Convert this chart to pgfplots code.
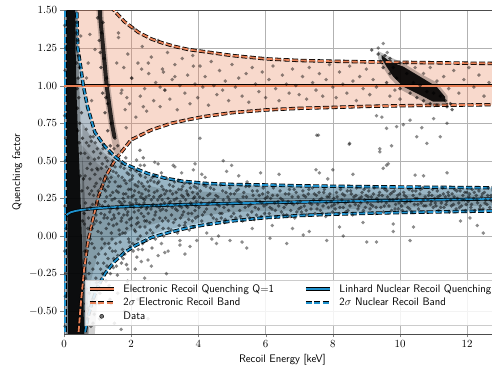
\documentclass[border=0pt]{standalone}
\usepackage{pgfplots}
\pgfplotsset{compat=1.18}
\definecolor{erc}{RGB}{232,128,86}
\definecolor{nrc}{RGB}{30,145,205}
\definecolor{gridc}{RGB}{178,178,178}
\begin{document}
\begin{tikzpicture}
\begin{axis}[
  name=ax,
  scale only axis,
  width=436.8bp, height=323.4bp,
  xmin=0, xmax=13, ymin=-0.65, ymax=1.5,
  xtick={0,2,4,6,8,10,12},
  ytick={-0.5,-0.25,0,0.25,0.5,0.75,1,1.25,1.5},
  yticklabel style={/pgf/number format/.cd,fixed,fixed zerofill,precision=2},
  tick label style={font=\fontsize{10.5}{12}\selectfont},
  tick align=outside, tick pos=left,
  major tick length=3.5bp,
  grid=major,
  grid style={gridc, line width=0.5pt},
  axis line style={black!70, line width=0.6pt},
  xlabel={Recoil Energy [keV]},
  ylabel={Quenching factor},
  label style={font=\fontsize{11}{13}\selectfont\sffamily},
  legend columns=2,
  legend cell align=left,
  legend style={at={(0.99,0.027)}, anchor=south east, font=\fontsize{11}{13}\selectfont\sffamily, draw=black!20, fill=white, fill opacity=0.85, text opacity=1, draw opacity=1, row sep=0.5pt, /tikz/every even column/.append style={column sep=28bp}, /tikz/every odd column/.append style={column sep=6bp}},
  dots/.style={only marks, mark=*, mark size=1.9bp, mark options={fill=black, draw opacity=0, fill opacity=#1}, forget plot},
]
% ---- ER band fill
\addplot[fill=erc, fill opacity=0.3, draw=none, forget plot] coordinates {
(0,1.6)(1.42,1.6)(1.45,1.51)(1.57,1.48)(1.8,1.425)(2.21,1.355)(2.6,1.31)(2.91,1.285)(3.3,1.26)(3.7,1.24)(4.2,1.225)(5,1.20)(6,1.178)(7,1.167)(8,1.162)(9,1.158)(10,1.155)(11,1.152)(12,1.149)(13,1.147)
(13,0.874)(12,0.871)(11,0.869)(10,0.866)(9,0.862)(8,0.855)(7,0.849)(6,0.838)(5,0.82)(4.2,0.795)(3.75,0.776)(3.2,0.75)(2.6,0.705)(2.0,0.64)(1.52,0.505)(1.25,0.40)(1.02,0.26)(0.85,0.1)(0.72,-0.03)(0.6,-0.22)(0.5,-0.45)(0.43,-0.65)(0.4,-0.75)(0,-0.75)} -- cycle;
% ---- NR band fill
\addplot[fill=nrc, fill opacity=0.3, draw=none, forget plot] coordinates {
(0,-0.75)(0,1.6)(0.36,1.6)(0.38,1.5)(0.41,1.25)(0.5,1.12)(0.575,1.0)(0.7,0.86)(0.84,0.75)(0.92,0.69)(1.2,0.6)(1.52,0.527)(1.8,0.48)(2.11,0.45)(2.5,0.415)(3.0,0.385)(3.5,0.365)(4.2,0.35)(5,0.343)(6.13,0.339)(7,0.334)(8,0.331)(9.1,0.328)(10,0.326)(11,0.324)(12,0.322)(13,0.32)
(13,0.167)(12,0.164)(11,0.16)(10,0.156)(9,0.151)(8,0.145)(7,0.136)(6,0.122)(5,0.1)(4.2,0.075)(3.7,0.055)(3.15,0.025)(2.6,-0.01)(2.11,-0.065)(1.8,-0.11)(1.5,-0.17)(1.22,-0.25)(1.0,-0.34)(0.85,-0.43)(0.7,-0.55)(0.62,-0.65)(0.56,-0.75)} -- cycle;
% ---- dense data regions
\addplot[fill=black, fill opacity=0.18, draw=none, forget plot] coordinates {(0.55,0.75)(0.9,0.62)(1.2,0.55)(1.5,0.5)(2.0,0.44)(2.5,0.4)(3,0.37)(4,0.345)(6,0.33)(9,0.32)(13,0.315)(13,0.175)(9,0.16)(6,0.13)(4,0.085)(3,0.04)(2.5,0.0)(2.0,-0.06)(1.5,-0.15)(1.2,-0.25)(1.0,-0.4)(0.9,-0.7)(0.55,-0.7)} -- cycle;
\addplot[fill=black, fill opacity=0.14, draw=none, forget plot] coordinates {(0.55,0.6)(1.0,0.48)(1.5,0.4)(2,0.36)(3,0.31)(5,0.285)(13,0.275)(13,0.205)(5,0.16)(3,0.1)(2,0.04)(1.5,-0.02)(1.0,-0.12)(0.8,-0.3)(0.7,-0.7)(0.55,-0.7)} -- cycle;
\addplot[fill=black, fill opacity=0.3, draw=none, forget plot] coordinates {(0.05,1.55)(0.4,1.55)(0.44,1.1)(0.5,0.7)(0.6,0.35)(0.66,0.0)(0.7,-0.35)(0.74,-0.7)(0.06,-0.7)} -- cycle;
\addplot[fill=black, fill opacity=0.9, draw=none, forget plot] coordinates {(0.08,1.55)(0.33,1.55)(0.35,1.2)(0.38,0.9)(0.42,0.65)(0.46,0.45)(0.5,0.2)(0.53,0.0)(0.57,-0.3)(0.6,-0.7)(0.12,-0.7)(0.1,0.0)(0.08,0.8)} -- cycle;
\addplot[black, line width=7bp, opacity=0.2, line cap=round, forget plot] coordinates {(1.06,1.55)(1.08,1.45)(1.17,1.24)(1.27,1.0)(1.36,0.85)(1.44,0.73)(1.52,0.64)(1.6,0.56)};
\addplot[black, line width=4bp, opacity=0.8, line cap=round, forget plot] coordinates {(1.06,1.55)(1.08,1.45)(1.17,1.24)(1.27,1.0)(1.36,0.85)(1.44,0.73)(1.5,0.66)};
\addplot[fill=black, fill opacity=0.25, draw=none, forget plot] coordinates {(9.35,1.23)(9.7,1.19)(10.1,1.15)(10.6,1.08)(11.1,1.02)(11.42,0.93)(11.42,0.87)(10.95,0.86)(10.55,0.91)(10.05,0.97)(9.7,1.05)(9.5,1.12)(9.35,1.18)} -- cycle;
\addplot[fill=black, fill opacity=0.9, draw=none, forget plot] coordinates {(9.455,1.203)(9.70,1.159)(10.10,1.126)(10.60,1.059)(11.09,0.993)(11.34,0.926)(11.34,0.893)(10.99,0.893)(10.60,0.9375)(10.10,0.993)(9.80,1.059)(9.60,1.126)(9.455,1.181)} -- cycle;
% ---- scattered data
\addplot[dots=0.5] coordinates {
(0.62,0.55)(0.66,0.71)(0.7,0.32)(0.73,0.12)(0.68,-0.1)(0.75,-0.38)(0.78,0.48)(0.81,0.63)(0.84,0.05)(0.86,-0.22)(0.88,0.27)(0.9,-0.52)(0.92,0.41)(0.95,0.14)(0.97,-0.31)(0.99,0.58)(0.64,0.22)(0.71,-0.48)(0.77,0.38)(0.83,-0.05)(0.87,0.66)(0.93,-0.14)(0.96,0.35)(0.74,0.6)(0.8,-0.6)(0.89,0.08)(0.69,0.45)(0.79,0.19)(0.85,-0.42)(0.98,0.22)(0.63,-0.28)(0.76,-0.18)(0.91,0.51)(0.94,-0.45)(0.82,0.3)
(1.01,0.44)(1.03,-0.12)(1.05,0.21)(1.07,-0.38)(1.09,0.55)(1.11,0.02)(1.13,0.33)(1.15,-0.25)(1.17,0.61)(1.19,0.12)(1.21,-0.05)(1.23,0.4)(1.25,-0.3)(1.27,0.26)(1.29,0.5)(1.31,-0.15)(1.33,0.08)(1.35,0.36)(1.37,-0.42)(1.39,0.18)(1.41,0.47)(1.43,-0.02)(1.45,0.29)(1.47,-0.21)(1.49,0.58)(1.02,0.3)(1.06,-0.55)(1.1,0.15)(1.14,0.48)(1.18,-0.18)(1.22,0.23)(1.26,0.05)(1.3,0.38)(1.34,-0.33)(1.38,0.27)(1.42,0.11)(1.46,0.43)(1.12,-0.08)(1.24,0.52)(1.36,-0.08)(1.48,0.14)(1.08,0.38)(1.2,0.31)(1.32,0.2)(1.44,-0.1)
(1.51,0.25)(1.53,-0.1)(1.55,0.42)(1.57,0.08)(1.59,-0.26)(1.61,0.33)(1.63,0.15)(1.65,0.5)(1.67,-0.04)(1.69,0.22)(1.71,-0.18)(1.73,0.39)(1.75,0.02)(1.77,0.28)(1.79,0.45)(1.81,-0.12)(1.83,0.18)(1.85,0.35)(1.87,0.05)(1.89,-0.3)(1.91,0.26)(1.93,0.41)(1.95,0.11)(1.97,-0.07)(1.99,0.31)(1.52,0.36)(1.56,-0.2)(1.6,0.19)(1.64,0.04)(1.68,0.46)(1.72,0.12)(1.76,-0.15)(1.8,0.23)(1.84,0.52)(1.88,0.14)(1.92,-0.02)(1.96,0.37)(1.62,0.29)(1.74,0.21)(1.86,0.09)(1.98,0.2)
(2.01,0.12)(2.03,0.38)(2.05,-0.05)(2.07,0.27)(2.09,0.16)(2.11,0.44)(2.13,0.03)(2.15,0.22)(2.17,-0.14)(2.19,0.33)(2.21,0.09)(2.23,0.29)(2.25,0.41)(2.27,0.0)(2.29,0.19)(2.31,0.35)(2.33,-0.09)(2.35,0.25)(2.37,0.13)(2.39,0.47)(2.41,0.06)(2.43,0.31)(2.45,0.18)(2.47,-0.03)(2.49,0.36)(2.04,0.21)(2.1,0.3)(2.16,0.08)(2.22,0.17)(2.28,0.26)(2.34,0.2)(2.4,0.24)(2.46,0.1)(2.12,-0.22)(2.36,0.52)(2.26,0.57)
(2.51,0.15)(2.54,0.33)(2.57,0.04)(2.6,0.24)(2.63,0.39)(2.66,0.11)(2.69,0.29)(2.72,-0.02)(2.75,0.2)(2.78,0.35)(2.81,0.07)(2.84,0.26)(2.87,0.17)(2.9,0.42)(2.93,0.1)(2.96,0.31)(2.99,0.22)(2.53,0.27)(2.59,0.18)(2.65,0.21)(2.71,0.14)(2.77,0.3)(2.83,0.19)(2.89,0.27)(2.95,0.05)(2.62,-0.08)(2.8,0.48)(2.68,0.36)(2.92,0.24)
(3.02,0.12)(3.05,0.3)(3.08,0.2)(3.11,0.05)(3.14,0.34)(3.17,0.23)(3.2,0.14)(3.23,0.28)(3.26,0.09)(3.29,0.36)(3.32,0.18)(3.35,0.25)(3.38,0.02)(3.41,0.31)(3.44,0.2)(3.47,0.12)(3.5,0.27)(3.53,0.33)(3.56,0.16)(3.59,0.07)(3.62,0.24)(3.65,0.3)(3.68,0.19)(3.71,0.11)(3.74,0.35)(3.77,0.22)(3.8,0.15)(3.83,0.29)(3.86,0.06)(3.89,0.26)(3.92,0.2)(3.95,0.32)(3.98,0.13)(3.1,0.25)(3.3,0.21)(3.5,0.19)(3.7,0.27)(3.9,0.17)
(4.02,0.19)(4.06,0.3)(4.1,0.1)(4.14,0.25)(4.18,0.16)(4.22,0.33)(4.26,0.21)(4.3,0.08)(4.34,0.28)(4.38,0.14)(4.42,0.23)(4.46,0.31)(4.5,0.18)(4.54,0.11)(4.58,0.26)(4.62,0.2)(4.66,0.34)(4.7,0.15)(4.74,0.24)(4.78,0.09)(4.82,0.29)(4.86,0.21)(4.9,0.17)(4.94,0.32)(4.98,0.13)(4.08,0.22)(4.28,0.27)(4.48,0.24)(4.68,0.12)(4.88,0.26)
(5.03,0.2)(5.07,0.28)(5.11,0.12)(5.15,0.24)(5.19,0.31)(5.23,0.17)(5.27,0.22)(5.31,0.1)(5.35,0.29)(5.39,0.19)(5.43,0.26)(5.47,0.14)(5.51,0.33)(5.55,0.21)(5.59,0.16)(5.63,0.27)(5.67,0.11)(5.71,0.24)(5.75,0.3)(5.79,0.18)(5.83,0.23)(5.87,0.13)(5.91,0.28)(5.95,0.2)(5.99,0.25)
(6.03,0.21)(6.07,0.29)(6.11,0.15)(6.15,0.25)(6.19,0.18)(6.23,0.32)(6.27,0.22)(6.31,0.13)(6.35,0.27)(6.39,0.2)(6.43,0.3)(6.47,0.16)(6.51,0.24)(6.55,0.19)(6.59,0.28)(6.63,0.14)(6.67,0.23)(6.71,0.31)(6.75,0.17)(6.79,0.26)(6.83,0.21)(6.87,0.12)(6.91,0.29)(6.95,0.22)(6.99,0.18)
(7.03,0.23)(7.07,0.16)(7.11,0.3)(7.15,0.2)(7.19,0.26)(7.23,0.14)(7.27,0.28)(7.31,0.22)(7.35,0.18)(7.39,0.32)(7.43,0.24)(7.47,0.15)(7.51,0.27)(7.55,0.21)(7.59,0.29)(7.63,0.17)(7.67,0.25)(7.71,0.2)(7.75,0.31)(7.79,0.13)(7.83,0.26)(7.87,0.19)(7.91,0.28)(7.95,0.23)(7.99,0.16)
(8.03,0.25)(8.07,0.18)(8.11,0.29)(8.15,0.22)(8.19,0.15)(8.23,0.31)(8.27,0.24)(8.31,0.19)(8.35,0.27)(8.39,0.16)(8.43,0.3)(8.47,0.23)(8.51,0.2)(8.55,0.28)(8.59,0.14)(8.63,0.26)(8.67,0.21)(8.71,0.32)(8.75,0.18)(8.79,0.25)(8.83,0.22)(8.87,0.29)(8.91,0.17)(8.95,0.24)(8.99,0.27)
(9.03,0.22)(9.07,0.3)(9.11,0.18)(9.15,0.26)(9.19,0.2)(9.23,0.32)(9.27,0.15)(9.31,0.25)(9.35,0.23)(9.39,0.29)(9.43,0.19)(9.47,0.27)(9.51,0.16)(9.55,0.31)(9.59,0.22)(9.63,0.26)(9.67,0.2)(9.71,0.28)(9.75,0.17)(9.79,0.24)(9.83,0.3)(9.87,0.21)(9.91,0.25)(9.95,0.18)(9.99,0.28)
(10.03,0.24)(10.07,0.17)(10.11,0.29)(10.15,0.22)(10.19,0.26)(10.23,0.19)(10.27,0.31)(10.31,0.23)(10.35,0.16)(10.39,0.27)(10.43,0.21)(10.47,0.3)(10.51,0.25)(10.55,0.18)(10.59,0.28)(10.63,0.22)(10.67,0.32)(10.71,0.2)(10.75,0.26)(10.79,0.16)(10.83,0.24)(10.87,0.29)(10.91,0.21)(10.95,0.27)(10.99,0.19)
(11.03,0.25)(11.07,0.2)(11.11,0.3)(11.15,0.17)(11.19,0.27)(11.23,0.22)(11.27,0.32)(11.31,0.19)(11.35,0.26)(11.39,0.23)(11.43,0.29)(11.47,0.16)(11.51,0.24)(11.55,0.28)(11.59,0.21)(11.63,0.31)(11.67,0.18)(11.71,0.25)(11.75,0.22)(11.79,0.3)(11.83,0.2)(11.87,0.27)(11.91,0.24)(11.95,0.17)(11.99,0.29)
(12.03,0.23)(12.07,0.28)(12.11,0.19)(12.15,0.31)(12.19,0.25)(12.23,0.17)(12.27,0.27)(12.31,0.22)(12.35,0.3)(12.39,0.2)(12.43,0.26)(12.47,0.18)(12.51,0.29)(12.55,0.24)(12.59,0.21)(12.63,0.32)(12.67,0.19)(12.71,0.27)(12.75,0.23)(12.79,0.16)(12.83,0.28)(12.87,0.22)(12.91,0.3)(12.95,0.25)(12.99,0.2)
(0.61,0.08)(0.63,0.4)(0.65,-0.45)(0.67,0.62)(0.69,0.18)(0.71,0.05)(0.72,0.52)(0.74,-0.25)(0.76,0.28)(0.78,-0.02)(0.79,0.66)(0.81,-0.35)(0.83,0.44)(0.85,0.21)(0.86,-0.58)(0.88,0.56)(0.9,-0.08)(0.91,0.33)(0.93,0.62)(0.95,-0.28)(0.96,0.1)(0.98,0.45)(1.0,-0.18)(1.01,0.03)(1.03,0.52)(1.04,-0.45)(1.06,0.27)(1.08,0.09)(1.09,-0.22)(1.11,0.45)(1.13,-0.02)(1.14,0.2)(1.16,0.58)(1.17,-0.35)(1.19,0.36)(1.21,0.14)(1.23,-0.12)(1.24,0.3)(1.26,0.46)(1.28,-0.2)(1.29,0.12)(1.31,0.33)(1.33,-0.05)(1.35,0.55)(1.36,0.16)(1.38,-0.25)(1.4,0.39)(1.41,0.02)(1.43,0.24)(1.45,0.5)(1.47,0.07)(1.48,-0.15)
(1.5,0.12)(1.52,0.46)(1.54,-0.05)(1.56,0.3)(1.58,0.18)(1.6,-0.13)(1.62,0.4)(1.64,0.23)(1.66,0.01)(1.68,0.33)(1.7,0.1)(1.72,0.48)(1.74,-0.09)(1.76,0.25)(1.78,0.14)(1.8,0.37)(1.82,0.02)(1.84,0.28)(1.86,-0.19)(1.88,0.42)(1.9,0.16)(1.92,0.31)(1.94,-0.04)(1.96,0.22)(1.98,0.44)(2.0,0.07)(2.02,0.26)(2.04,0.4)(2.06,-0.1)(2.08,0.19)(2.1,0.04)(2.12,0.34)(2.14,0.24)(2.16,0.43)(2.18,0.12)(2.2,-0.02)(2.22,0.36)(2.24,0.21)(2.26,0.06)(2.28,0.4)(2.3,0.15)(2.32,0.28)(2.34,-0.05)(2.36,0.33)(2.38,0.22)(2.4,0.1)(2.42,0.39)(2.44,0.26)(2.46,0.02)(2.48,0.19)
(2.52,0.3)(2.55,0.09)(2.58,0.37)(2.61,0.2)(2.64,0.02)(2.67,0.26)(2.7,0.4)(2.73,0.16)(2.76,0.06)(2.79,0.24)(2.82,0.36)(2.85,0.12)(2.88,0.21)(2.91,0.33)(2.94,0.18)(2.97,0.0)(3.0,0.28)(3.04,0.17)(3.07,0.38)(3.1,0.1)(3.13,0.22)(3.16,0.3)(3.19,0.04)(3.22,0.19)(3.25,0.33)(3.28,0.24)(3.31,0.11)(3.34,0.29)(3.37,0.17)(3.4,0.37)(3.43,0.07)(3.46,0.23)(3.49,0.31)(3.52,0.14)(3.55,0.26)(3.58,0.35)(3.61,0.09)(3.64,0.2)(3.67,0.28)(3.7,0.15)(3.73,0.04)(3.76,0.32)(3.79,0.21)(3.82,0.1)(3.85,0.25)(3.88,0.33)(3.91,0.12)(3.94,0.23)(3.97,0.28)
(4.04,0.26)(4.12,0.14)(4.16,0.34)(4.24,0.18)(4.32,0.22)(4.36,0.32)(4.44,0.12)(4.52,0.27)(4.56,0.21)(4.64,0.15)(4.72,0.3)(4.76,0.19)(4.8,0.11)(4.92,0.24)(4.96,0.28)
(5.05,0.15)(5.13,0.3)(5.21,0.23)(5.25,0.13)(5.33,0.26)(5.41,0.33)(5.49,0.2)(5.53,0.12)(5.61,0.3)(5.69,0.19)(5.73,0.14)(5.81,0.27)(5.89,0.22)(5.93,0.32)(5.97,0.15)
(6.05,0.26)(6.13,0.19)(6.21,0.27)(6.29,0.17)(6.37,0.23)(6.45,0.25)(6.53,0.14)(6.61,0.21)(6.69,0.28)(6.73,0.13)(6.77,0.22)(6.85,0.31)(6.93,0.16)(6.97,0.26)
(7.05,0.19)(7.13,0.27)(7.21,0.17)(7.29,0.31)(7.37,0.21)(7.45,0.28)(7.53,0.18)(7.61,0.24)(7.69,0.15)(7.73,0.29)(7.81,0.22)(7.89,0.26)(7.97,0.2)
(8.05,0.21)(8.13,0.26)(8.21,0.19)(8.29,0.28)(8.37,0.22)(8.45,0.17)(8.53,0.3)(8.61,0.23)(8.69,0.27)(8.77,0.2)(8.85,0.26)(8.93,0.31)(8.97,0.19)
(9.05,0.26)(9.13,0.21)(9.21,0.28)(9.29,0.19)(9.37,0.27)(9.45,0.23)(9.53,0.2)(9.61,0.3)(9.69,0.24)(9.77,0.29)(9.85,0.18)(9.93,0.27)(9.97,0.22)
(10.05,0.2)(10.13,0.27)(10.21,0.23)(10.29,0.18)(10.37,0.3)(10.45,0.25)(10.53,0.21)(10.61,0.31)(10.69,0.24)(10.77,0.2)(10.85,0.27)(10.93,0.23)(10.97,0.31)
(11.05,0.22)(11.13,0.26)(11.21,0.19)(11.29,0.28)(11.37,0.21)(11.45,0.27)(11.53,0.2)(11.61,0.26)(11.69,0.3)(11.77,0.19)(11.85,0.24)(11.93,0.29)(11.97,0.21)
(12.05,0.26)(12.13,0.21)(12.21,0.29)(12.29,0.24)(12.37,0.18)(12.45,0.28)(12.53,0.22)(12.61,0.27)(12.69,0.24)(12.77,0.3)(12.85,0.2)(12.93,0.26)
};
\addplot[dots=0.45] coordinates {
(3.45,-0.06)(3.85,0.44)(3.25,0.47)(3.6,-0.12)(4.2,0.39)(4.6,0.0)(4.84,0.43)(4.4,-0.02)(5.2,0.4)(5.6,0.05)(5.45,0.36)(5.85,0.42)(5.3,-0.04)(6.4,0.41)(6.8,0.05)(6.2,0.07)(7.5,0.44)(7.3,0.03)(7.85,0.38)(8.2,0.06)(8.6,0.41)(8.9,0.09)(9.5,0.45)(9.8,0.08)(10.4,0.06)(10.7,0.4)(11.4,0.42)(11.8,0.1)(12.3,0.07)
(1.62,1.32)(1.7,0.95)(1.78,1.12)(1.85,0.72)(1.9,1.21)(1.95,0.88)(2.02,1.05)(2.08,1.38)(2.14,0.79)(2.2,1.15)(2.27,0.93)(2.33,1.26)(2.4,0.98)(2.46,0.83)(2.52,1.08)(2.6,1.19)(2.67,0.9)(2.73,1.02)(2.8,1.3)(2.86,0.86)(2.93,1.11)(3.0,0.97)(3.08,1.22)(3.15,0.91)(3.22,1.04)(3.3,1.14)(3.37,0.84)(3.45,1.0)(3.52,1.18)(3.6,0.95)(3.68,1.07)(3.75,0.88)(3.83,1.2)(3.9,1.01)(3.98,0.92)(4.05,1.13)(4.13,0.99)(4.2,1.06)(4.3,0.87)(4.38,1.16)(4.46,1.0)(4.55,0.94)(4.63,1.1)(4.72,0.97)(4.8,1.03)(4.9,0.9)(5.0,1.14)(5.1,0.99)(5.2,1.05)(5.3,0.93)(5.42,1.08)(5.5,0.89)(5.6,1.12)(5.7,1.01)(5.8,0.96)(5.9,1.09)(6.0,0.92)(6.1,1.04)(6.22,1.13)(6.3,0.98)(6.4,0.9)(6.5,1.07)(6.62,1.01)(6.7,0.95)(6.8,1.11)(6.9,1.0)(7.0,0.94)(7.1,1.06)(7.22,0.91)(7.3,1.12)(7.4,1.02)(7.5,0.97)(7.6,1.08)(7.7,0.93)(7.8,1.04)(7.9,1.14)(8.0,0.99)(8.1,0.92)(8.2,1.09)(8.3,1.01)(8.42,0.95)(8.5,1.13)(8.6,1.03)(8.7,0.9)(8.8,1.06)(8.9,0.98)(9.0,1.11)(9.1,0.94)(9.2,1.04)(9.3,0.99)(9.35,1.25)(9.5,1.28)(9.62,1.22)(9.7,0.93)(9.85,0.97)(10.0,0.91)(10.2,1.15)(10.45,1.12)(10.7,1.08)(10.9,1.12)(11.1,1.03)(11.3,1.06)(11.45,0.98)(11.6,1.1)(11.75,0.95)(11.9,1.04)(12.05,1.12)(12.2,0.99)(12.35,1.07)(12.5,0.93)(12.65,1.02)(12.8,1.1)(12.95,0.97)
(9.3,0.80)(9.46,0.79)(9.6,0.716)(9.9,0.727)(10.1,0.74)(10.5,0.66)(10.3,0.77)(10.8,0.616)(11.2,0.66)(11.4,0.75)(9.4,0.56)(9.65,0.48)(10.45,0.405)(8.5,0.616)(7.52,0.67)(8.0,0.44)(7.6,0.42)(11.0,0.78)(9.75,0.6)(10.65,0.72)
(4.05,0.65)(7.57,0.67)(8.49,0.61)(9.4,0.58)(9.6,0.47)(4.74,0.5)(4.99,0.47)(2.16,0.505)(2.27,0.47)(2.7,0.49)(3.3,0.46)(3.9,0.48)(3.5,0.42)(4.1,0.41)
(0.5,1.33)(0.77,1.34)(0.72,1.15)(0.92,1.24)(0.67,1.05)(0.82,0.9)(1.57,1.15)(1.87,0.92)(2.01,1.05)(2.31,1.11)(2.51,1.15)(2.36,0.86)(2.96,1.09)(3.3,1.06)(3.85,1.13)(3.0,0.97)(2.86,0.99)(1.72,0.97)(1.82,0.84)(1.62,1.35)
(0.02,1.4)(0.03,1.1)(0.02,0.8)(0.04,0.5)(0.03,0.2)(0.02,-0.1)(0.04,-0.4)(0.03,-0.6)(0.05,1.25)(0.05,0.65)(0.06,0.05)(0.05,-0.25)
(3.45,-0.03)(3.75,-0.07)(3.95,-0.03)(4.25,0.02)(4.54,-0.05)(4.94,-0.03)(5.44,-0.08)(6.13,-0.015)(6.63,-0.05)(7.12,0.007)(7.82,-0.03)(8.31,0.0)(9.01,-0.04)(9.3,-0.04)(9.8,0.03)(10.3,-0.03)(12.48,0.02)(12.08,0.12)
(1.4,-0.45)(1.6,-0.38)(1.8,-0.5)(2.0,-0.35)(2.2,-0.42)(2.4,-0.28)(2.6,-0.2)(1.9,-0.22)(2.3,-0.17)(2.8,-0.13)(3.05,-0.25)(1.5,-0.58)(2.5,-0.55)(3.1,-0.1)(1.7,-0.62)(2.21,-0.09)(3.0,-0.11)(2.5,-0.16)(2.9,-0.05)
};
\addplot[dots=0.6] coordinates {
(0.38,1.42)(0.4,1.3)(0.37,1.15)(0.42,1.05)(0.44,0.92)(0.4,0.85)(0.47,0.75)(0.45,0.62)(0.5,0.55)(0.48,0.4)(0.53,0.3)(0.56,0.1)(0.6,0.15)(0.58,0.38)(0.52,0.82)(0.39,0.98)(0.43,1.2)(0.36,1.35)(0.46,1.12)(0.41,0.7)(0.55,0.65)(0.62,-0.1)(0.66,-0.35)(0.7,-0.55)(0.64,-0.5)
(1.0,1.45)(1.16,1.42)(1.05,1.3)(1.2,1.18)(1.1,1.12)(1.27,1.05)(1.15,0.95)(1.3,0.88)(1.22,0.82)(1.4,0.75)(1.3,0.7)(1.52,0.65)(1.38,0.6)(1.6,0.6)(1.08,1.22)(1.25,0.92)(1.33,1.0)(1.12,1.35)
(9.35,1.21)(9.42,1.16)(9.55,1.2)(9.7,1.18)(9.8,1.12)(10.0,1.15)(9.9,1.05)(10.2,1.08)(10.4,1.02)(10.6,1.0)(10.8,0.96)(11.0,0.95)(11.2,0.93)(11.35,0.9)(11.4,0.86)(11.1,0.87)(10.9,0.88)(10.7,0.9)(10.5,0.92)(10.3,0.95)(10.0,0.98)(9.7,1.08)(9.5,1.12)(9.6,1.02)(11.5,0.88)(11.55,0.84)(9.16,1.237)
};
% ---- ER lines
\addplot[black, line width=3.6bp, forget plot] coordinates {(0,1)(13,1)};
\addplot[erc, line width=1.8bp, forget plot] coordinates {(0,1)(13,1)};
\addplot[black, line width=3.4bp, dash pattern=on 6bp off 2.5bp, forget plot] coordinates {(1.42,1.53)(1.45,1.51)(1.57,1.48)(1.8,1.425)(2.21,1.355)(2.6,1.31)(2.91,1.285)(3.3,1.26)(3.7,1.24)(4.2,1.225)(5,1.20)(6,1.178)(7,1.167)(8,1.162)(9,1.158)(10,1.155)(11,1.152)(12,1.149)(13,1.147)};
\addplot[erc, line width=1.8bp, dash pattern=on 6bp off 2.5bp, forget plot] coordinates {(1.42,1.53)(1.45,1.51)(1.57,1.48)(1.8,1.425)(2.21,1.355)(2.6,1.31)(2.91,1.285)(3.3,1.26)(3.7,1.24)(4.2,1.225)(5,1.20)(6,1.178)(7,1.167)(8,1.162)(9,1.158)(10,1.155)(11,1.152)(12,1.149)(13,1.147)};
\addplot[black, line width=3.4bp, dash pattern=on 6bp off 2.5bp, forget plot] coordinates {(0.4,-0.75)(0.43,-0.65)(0.5,-0.45)(0.6,-0.22)(0.72,-0.03)(0.85,0.1)(1.02,0.26)(1.25,0.40)(1.52,0.505)(2.0,0.64)(2.6,0.705)(3.2,0.75)(3.75,0.776)(4.2,0.795)(5,0.82)(6,0.838)(7,0.849)(8,0.855)(9,0.862)(10,0.866)(11,0.869)(12,0.871)(13,0.874)};
\addplot[erc, line width=1.8bp, dash pattern=on 6bp off 2.5bp, forget plot] coordinates {(0.4,-0.75)(0.43,-0.65)(0.5,-0.45)(0.6,-0.22)(0.72,-0.03)(0.85,0.1)(1.02,0.26)(1.25,0.40)(1.52,0.505)(2.0,0.64)(2.6,0.705)(3.2,0.75)(3.75,0.776)(4.2,0.795)(5,0.82)(6,0.838)(7,0.849)(8,0.855)(9,0.862)(10,0.866)(11,0.869)(12,0.871)(13,0.874)};
% ---- NR lines
\addplot[black, line width=3.2bp, forget plot] coordinates {(0.02,0.11)(0.05,0.13)(0.1,0.145)(0.2,0.158)(0.35,0.167)(0.5,0.173)(0.75,0.18)(1,0.185)(1.5,0.192)(2,0.198)(3,0.205)(4,0.212)(5,0.217)(6,0.222)(7,0.226)(8,0.23)(9,0.234)(10,0.237)(11,0.241)(12,0.244)(13,0.247)};
\addplot[nrc, line width=1.8bp, forget plot] coordinates {(0.02,0.11)(0.05,0.13)(0.1,0.145)(0.2,0.158)(0.35,0.167)(0.5,0.173)(0.75,0.18)(1,0.185)(1.5,0.192)(2,0.198)(3,0.205)(4,0.212)(5,0.217)(6,0.222)(7,0.226)(8,0.23)(9,0.234)(10,0.237)(11,0.241)(12,0.244)(13,0.247)};
\addplot[black, line width=3.4bp, dash pattern=on 6bp off 2.5bp, forget plot] coordinates {(0.04,-0.75)(0.04,1.6)};
\addplot[nrc, line width=1.8bp, dash pattern=on 6bp off 2.5bp, forget plot] coordinates {(0.04,-0.75)(0.04,1.6)};
\addplot[black, line width=3.4bp, dash pattern=on 6bp off 2.5bp, forget plot] coordinates {(0.36,1.6)(0.38,1.5)(0.41,1.25)(0.5,1.12)(0.575,1.0)(0.7,0.86)(0.84,0.75)(0.92,0.69)(1.2,0.6)(1.52,0.527)(1.8,0.48)(2.11,0.45)(2.5,0.415)(3.0,0.385)(3.5,0.365)(4.2,0.35)(5,0.343)(6.13,0.339)(7,0.334)(8,0.331)(9.1,0.328)(10,0.326)(11,0.324)(12,0.322)(13,0.32)};
\addplot[nrc, line width=1.8bp, dash pattern=on 6bp off 2.5bp, forget plot] coordinates {(0.36,1.6)(0.38,1.5)(0.41,1.25)(0.5,1.12)(0.575,1.0)(0.7,0.86)(0.84,0.75)(0.92,0.69)(1.2,0.6)(1.52,0.527)(1.8,0.48)(2.11,0.45)(2.5,0.415)(3.0,0.385)(3.5,0.365)(4.2,0.35)(5,0.343)(6.13,0.339)(7,0.334)(8,0.331)(9.1,0.328)(10,0.326)(11,0.324)(12,0.322)(13,0.32)};
\addplot[black, line width=3.4bp, dash pattern=on 6bp off 2.5bp, forget plot] coordinates {(0.56,-0.75)(0.62,-0.65)(0.7,-0.55)(0.85,-0.43)(1.0,-0.34)(1.22,-0.25)(1.5,-0.17)(1.8,-0.11)(2.11,-0.065)(2.6,-0.01)(3.15,0.025)(3.7,0.055)(4.2,0.075)(5,0.1)(6,0.122)(7,0.136)(8,0.145)(9,0.151)(10,0.156)(11,0.16)(12,0.164)(13,0.167)};
\addplot[nrc, line width=1.8bp, dash pattern=on 6bp off 2.5bp, forget plot] coordinates {(0.56,-0.75)(0.62,-0.65)(0.7,-0.55)(0.85,-0.43)(1.0,-0.34)(1.22,-0.25)(1.5,-0.17)(1.8,-0.11)(2.11,-0.065)(2.6,-0.01)(3.15,0.025)(3.7,0.055)(4.2,0.075)(5,0.1)(6,0.122)(7,0.136)(8,0.145)(9,0.151)(10,0.156)(11,0.16)(12,0.164)(13,0.167)};
% ---- legend
\addlegendimage{legend image code/.code={\draw[black,line width=3.4bp] (0bp,0bp)--(24bp,0bp); \draw[erc,line width=1.8bp] (0bp,0bp)--(24bp,0bp);}}
\addlegendentry{Electronic Recoil Quenching Q=1}
\addlegendimage{legend image code/.code={\draw[black,line width=3.4bp] (0bp,0bp)--(24bp,0bp); \draw[nrc,line width=1.8bp] (0bp,0bp)--(24bp,0bp);}}
\addlegendentry{Linhard Nuclear Recoil Quenching}
\addlegendimage{legend image code/.code={\draw[black,line width=3.4bp,dash pattern=on 6bp off 2.5bp] (0bp,0bp)--(24bp,0bp); \draw[erc,line width=1.8bp,dash pattern=on 6bp off 2.5bp] (0bp,0bp)--(24bp,0bp);}}
\addlegendentry{2$\sigma$ Electronic Recoil Band}
\addlegendimage{legend image code/.code={\draw[black,line width=3.4bp,dash pattern=on 6bp off 2.5bp] (0bp,0bp)--(24bp,0bp); \draw[nrc,line width=1.8bp,dash pattern=on 6bp off 2.5bp] (0bp,0bp)--(24bp,0bp);}}
\addlegendentry{2$\sigma$ Nuclear Recoil Band}
\addlegendimage{legend image code/.code={\fill[fill=black!55, fill opacity=1] (12bp,0bp) circle (2bp);}}
\addlegendentry{Data}
\end{axis}
\pgfresetboundingbox
\path[use as bounding box] (ax.south west) ++(-64bp,-35.2bp) rectangle ++(492bp,369bp);
\end{tikzpicture}
\end{document}
